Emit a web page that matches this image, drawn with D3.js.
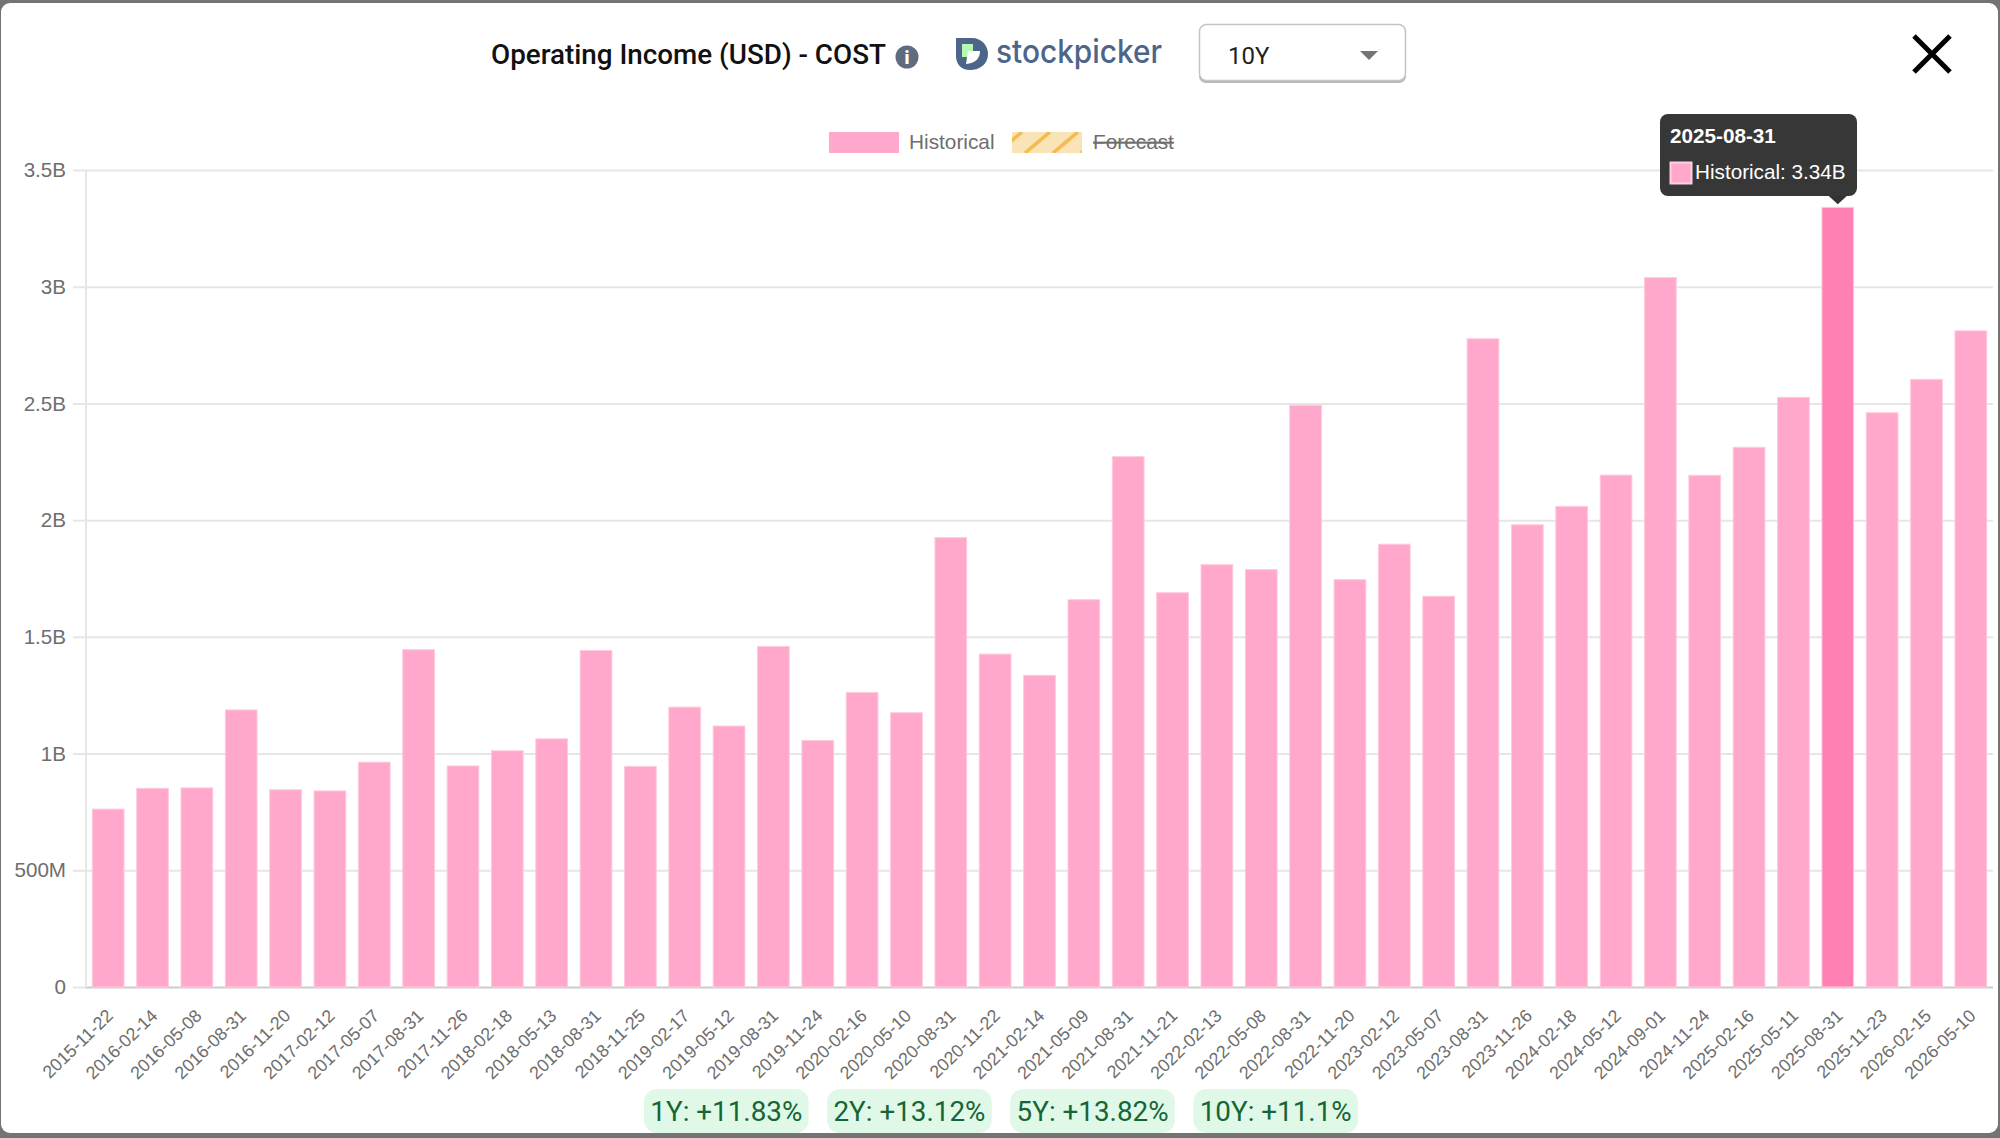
<!DOCTYPE html>
<html>
<head>
<meta charset="utf-8">
<script src="https://cdn.jsdelivr.net/npm/d3@7"></script>
<style>
  html, body { margin: 0; padding: 0; background: #747474; overflow: hidden; }
  svg { display: block; }
  text { font-family: "Liberation Sans", Arial, sans-serif; }
</style>
</head>
<body>
<svg id="chart" width="2000" height="1138"></svg>
<script>
// 数据
const dates = ["2015-11-22","2016-02-14","2016-05-08","2016-08-31","2016-11-20","2017-02-12","2017-05-07","2017-08-31","2017-11-26","2018-02-18","2018-05-13","2018-08-31","2018-11-25","2019-02-17","2019-05-12","2019-08-31","2019-11-24","2020-02-16","2020-05-10","2020-08-31","2020-11-22","2021-02-14","2021-05-09","2021-08-31","2021-11-21","2022-02-13","2022-05-08","2022-08-31","2022-11-20","2023-02-12","2023-05-07","2023-08-31","2023-11-26","2024-02-18","2024-05-12","2024-09-01","2024-11-24","2025-02-16","2025-05-11","2025-08-31","2025-11-23","2026-02-15","2026-05-10"];
const historical = [0.762,0.851,0.853,1.187,0.845,0.840,0.963,1.445,0.947,1.012,1.063,1.442,0.945,1.199,1.118,1.459,1.056,1.262,1.175,1.925,1.426,1.335,1.659,2.272,1.689,1.809,1.788,2.492,1.745,1.897,1.674,2.777,1.980,2.059,2.193,3.039,2.192,2.312,2.526,3.34,2.460,2.603,2.811];
const yTicks = [0,0.5,1,1.5,2,2.5,3,3.5];
const yTickLabels = ["0","500M","1B","1.5B","2B","2.5B","3B","3.5B"];
const legendLabels = ["Historical","Forecast"];
const growthLabels = ["1Y: +11.83%","2Y: +13.12%","5Y: +13.82%","10Y: +11.1%"];
const activeDate = "2025-08-31";
const activeLabel = "Historical: 3.34B";
const titleText = "Operating Income (USD) - COST";
const rangeText = "10Y";

const svg = d3.select("#chart");

// 弹窗白底
svg.append("rect").attr("x", 1).attr("y", 3).attr("width", 1997).attr("height", 1130)
  .attr("rx", 9).attr("fill", "#ffffff");

const defs = svg.append("defs");
const stripes = defs.append("pattern").attr("id", "forecastStripe")
  .attr("patternUnits", "userSpaceOnUse").attr("width", 28).attr("height", 21)
  .attr("patternTransform", "translate(1012,132)");
stripes.append("rect").attr("width", 28).attr("height", 21).attr("fill", "#fae3b7");
stripes.append("path").attr("d", "M13,21L38,0M-15,21L10,0").attr("stroke", "#f5bb4d").attr("stroke-width", 3.5);

// 比例尺
const x = d3.scaleBand().domain(dates).range([86, 1993]).paddingInner(0.285).paddingOuter(0.1425);
const y = d3.scaleLinear().domain([0, 3.5]).range([987, 170]);

// y轴 + 网格线
const yAxis = svg.append("g").attr("transform", "translate(86,0)")
  .call(d3.axisLeft(y).tickValues(yTicks).tickFormat((d, i) => yTickLabels[i]).tickSize(13).tickPadding(7));
yAxis.select(".domain").remove();
yAxis.selectAll("line").attr("stroke", "#e6e6e6").attr("stroke-width", 2);
yAxis.selectAll("text").attr("fill", "#6e6e6e").attr("font-size", 20.6);

const grid = svg.append("g").attr("transform", "translate(86,0)")
  .call(d3.axisRight(y).tickValues(yTicks).tickSize(1907).tickFormat(""));
grid.select(".domain").remove();
grid.selectAll("line").attr("stroke", d => d === 0 ? "#cccccc" : "#e6e6e6").attr("stroke-width", 2);

svg.append("line").attr("x1", 86).attr("x2", 86).attr("y1", y(3.5)).attr("y2", y(0))
  .attr("stroke", "#e6e6e6").attr("stroke-width", 2);

// 柱子
svg.append("g").selectAll("rect")
  .data(dates)
  .enter()
  .append("rect")
  .attr("x", d => x(d))
  .attr("y", (d, i) => y(historical[i]))
  .attr("width", x.bandwidth())
  .attr("height", (d, i) => y(0) - y(historical[i]))
  .attr("fill", d => d === activeDate ? "#ff80b3" : "#ffa8cb")
  .attr("stroke", "#ffc9de")
  .attr("stroke-width", 1);

// x轴
const xAxis = svg.append("g").attr("transform", "translate(0,987)")
  .call(d3.axisBottom(x).tickSize(0).tickPadding(0));
xAxis.select(".domain").remove();
xAxis.selectAll("text")
  .attr("fill", "#6e6e6e")
  .attr("font-size", 17.8)
  .attr("text-anchor", "end")
  .attr("dy", 0)
  .attr("y", 0)
  .attr("transform", "translate(6,30) rotate(-44)");

// 图例
const legend = svg.append("g");
legend.append("rect").attr("x", 829).attr("y", 132).attr("width", 70).attr("height", 21).attr("fill", "#ffa8cb");
legend.append("text").attr("x", 909).attr("y", 149).attr("font-size", 20.8).attr("fill", "#6e6e6e").text(legendLabels[0]);
legend.append("rect").attr("x", 1012).attr("y", 132).attr("width", 70).attr("height", 21).attr("fill", "url(#forecastStripe)");
legend.append("text").attr("x", 1093).attr("y", 149).attr("font-size", 20.8).attr("fill", "#6e6e6e")
  .attr("text-decoration", "line-through").text(legendLabels[1]);

// 标题栏
svg.append("text").attr("x", 491).attr("y", 64)
  .style("font-family", "Roboto").attr("font-weight", 500).attr("font-size", 27.8)
  .attr("fill", "#111111").text(titleText);
svg.append("circle").attr("cx", 907).attr("cy", 57).attr("r", 11.5).attr("fill", "#5f6b7f");
svg.append("text").attr("x", 907).attr("y", 64).attr("text-anchor", "middle")
  .style("font-family", "Roboto").attr("font-weight", 900).attr("font-size", 18).attr("fill", "#fff").text("i");

// logo
svg.append("path").attr("d", "M956,38H972C982,38 988,46 988,54C988,64 980,70 970,70C961,70 956,64 956,56Z").attr("fill", "#4d6589");
svg.append("rect").attr("x", 962).attr("y", 44).attr("width", 11).attr("height", 13).attr("fill", "#b6f7b4");
svg.append("path").attr("d", "M968,51H980C980,59 975,63 966,64Z").attr("fill", "#ffffff");
svg.append("text").attr("x", 996).attr("y", 63)
  .style("font-family", "Inter").attr("font-weight", 500).attr("font-size", 32)
  .attr("textLength", 166).attr("lengthAdjust", "spacingAndGlyphs")
  .attr("fill", "#4d6589").text("stockpicker");

// 下拉框
svg.append("rect").attr("x", 1199).attr("y", 26).attr("width", 207).attr("height", 57).attr("rx", 7).attr("fill", "#8a8a8a").attr("opacity", 0.6);
svg.append("rect").attr("x", 1199.5).attr("y", 24.5).attr("width", 206).attr("height", 56).attr("rx", 7)
  .attr("fill", "#ffffff").attr("stroke", "#c4c4c4").attr("stroke-width", 1.5);
svg.append("text").attr("x", 1228).attr("y", 64)
  .style("font-family", "Roboto").attr("font-size", 24).attr("fill", "#222222").text(rangeText);
svg.append("path").attr("d", "M1360,51H1378L1369,60Z").attr("fill", "#757575");

// 关闭按钮
svg.append("path").attr("d", "M1914,36L1950,72M1950,36L1914,72").attr("stroke", "#000").attr("stroke-width", 5).attr("fill", "none");

// tooltip
const tip = svg.append("g");
const tipX = x(activeDate) + x.bandwidth() / 2;
const tipY = y(3.34);
tip.append("rect").attr("x", 1660).attr("y", 114).attr("width", 197).attr("height", 82).attr("rx", 8).attr("fill", "#333333").attr("fill-opacity", 0.98);
tip.append("path").attr("d", `M${tipX - 9},196L${tipX},${tipY - 3}L${tipX + 9},196Z`).attr("fill", "#333333");
tip.append("text").attr("x", 1670).attr("y", 143).attr("font-size", 20.7).attr("font-weight", 700).attr("fill", "#ffffff").text(activeDate);
tip.append("rect").attr("x", 1670.5).attr("y", 162.5).attr("width", 21).attr("height", 21).attr("fill", "#ffa8cb").attr("stroke", "#ffd0e2").attr("stroke-width", 2);
tip.append("text").attr("x", 1695).attr("y", 179).attr("font-size", 20.7).attr("fill", "#ffffff").text(activeLabel);

// 涨幅标签
const badgeX = d3.scaleBand().domain(growthLabels).range([644, 1358]).paddingInner(0.101);
const badges = svg.append("g").selectAll("g").data(growthLabels).enter().append("g")
  .attr("transform", d => `translate(${badgeX(d)},1089)`);
badges.append("rect").attr("width", badgeX.bandwidth()).attr("height", 44).attr("rx", 13).attr("fill", "#dff8e8");
badges.append("text").attr("x", badgeX.bandwidth() / 2).attr("y", 32).attr("text-anchor", "middle")
  .style("font-family", "Roboto").attr("font-size", 27.8).attr("fill", "#166534").text(d => d);
</script>
</body>
</html>
